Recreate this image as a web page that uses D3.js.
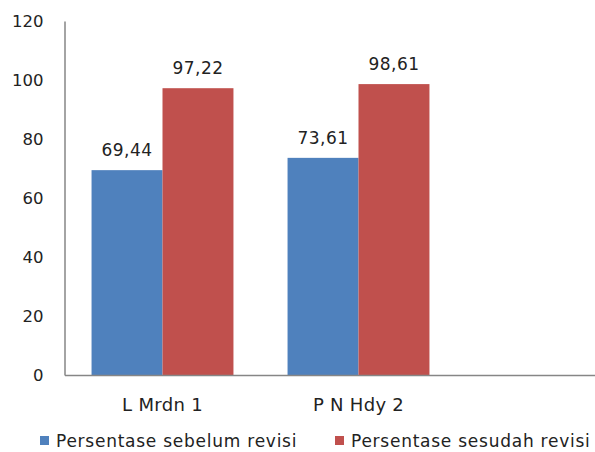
<!DOCTYPE html>
<html><head><meta charset="utf-8">
<script src="https://cdn.jsdelivr.net/npm/d3@7"></script>
<style>body{margin:0;background:#fff;} svg{display:block;} text{font-family:"DejaVu Sans",sans-serif;fill:#222;}</style>
</head><body>
<svg id="c" width="595" height="452"></svg>
<script>
const categories = ["L Mrdn 1", "P N Hdy 2", ""];
const seriesNames = ["Persentase sebelum revisi", "Persentase sesudah revisi"];
const sebelum = [69.44, 73.61, null];
const sesudah = [97.22, 98.61, null];
const yTicks = [0, 20, 40, 60, 80, 100, 120];
const colors = ["#4F81BD", "#C0504D"];

const svg = d3.select("#c");
const x = d3.scaleBand().domain(categories).range([64.5, 652.5]).paddingInner(0.276).paddingOuter(0.138);
const x1 = d3.scaleBand().domain([0, 1]).range([0, x.bandwidth()]);
const y = d3.scaleLinear().domain([0, 120]).range([375, 21]);

// y axis
const ya = svg.append("g").attr("transform", "translate(64.5,0)")
  .call(d3.axisLeft(y).tickValues(yTicks).tickSize(0).tickPadding(21));
ya.select(".domain").attr("stroke", "#868686").attr("stroke-width", 1.5);
ya.selectAll("text").style("font-size", "16.5px").attr("fill", "#222").attr("font-family", "DejaVu Sans");

// bars
const data = [];
categories.forEach((c, i) => {
  [sebelum[i], sesudah[i]].forEach((v, s) => { if (v != null) data.push({c, s, v}); });
});
svg.selectAll("rect.bar").data(data).enter().append("rect")
  .attr("x", d => x(d.c) + x1(d.s))
  .attr("width", x1.bandwidth())
  .attr("y", d => y(d.v))
  .attr("height", d => y(0) - y(d.v))
  .attr("fill", d => colors[d.s]);

svg.selectAll("text.lbl").data(data).enter().append("text")
  .attr("x", d => x(d.c) + x1(d.s) + x1.bandwidth() / 2)
  .attr("y", d => y(d.v) - 14)
  .attr("text-anchor", "middle").style("font-size", "17px").style("letter-spacing", "0.5px")
  .text(d => d.v.toFixed(2).replace(".", ","));

// x axis
const xa = svg.append("g").attr("transform", "translate(0,375)")
  .call(d3.axisBottom(x).tickSize(0).tickPadding(23));
xa.select(".domain").attr("stroke", "#868686").attr("stroke-width", 1.5);
xa.selectAll("text").style("font-size", "18px").style("letter-spacing", "0.3px").attr("fill", "#222").attr("font-family", "DejaVu Sans");

// legend
const legX = [40, 335];
const lg = svg.selectAll("g.leg").data(seriesNames).enter().append("g")
  .attr("transform", (d, i) => `translate(${legX[i]},436)`);
lg.append("rect").attr("width", 9).attr("height", 9).attr("fill", (d, i) => colors[i]);
lg.append("text").attr("x", 16).attr("y", 11).style("font-size", "17px").style("letter-spacing", "0.75px").text(d => d);
</script>
</body></html>
